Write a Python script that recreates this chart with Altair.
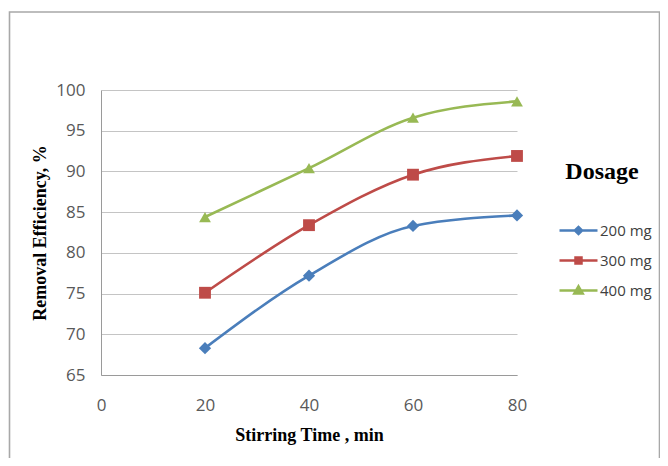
import altair as alt
import pandas as pd

times = [20, 40, 60, 80]
dose_200 = [68.3, 77.2, 83.3, 84.6]
dose_300 = [75.1, 83.4, 89.6, 91.9]
dose_400 = [84.4, 90.4, 96.6, 98.6]
series = ["200 mg", "300 mg", "400 mg"]
colors = ["#4A7EBB", "#BE4B48", "#98B954"]

rows = []
for name, vals in zip(series, [dose_200, dose_300, dose_400]):
    for t, v in zip(times, vals):
        rows.append({"time": t, "eff": v, "dose": name})
df = pd.DataFrame(rows)

W, H = 416, 285
PL, PT = 93, 82
PR = 668 - 16 - PL - W
PB = 466 - 16 - PT - H

color_scale = alt.Scale(domain=series, range=colors)

# legend symbols: a short line with the series' marker in the middle (stroke-drawn)
p_line = "M0,0L9.5,0"
def diamond(c, r):
    return f"M{c-r},0L{c},{-r}L{c+r},0L{c},{r}Z"
def square(c, r):
    return f"M{c-r},{-r}L{c+r},{-r}L{c+r},{r}L{c-r},{r}Z"
def tri(c, r):
    return f"M{c},{-1.1*r}L{c+1.1*r},{0.8*r}L{c-1.1*r},{0.8*r}Z"
legend_shapes = [
    p_line + diamond(4.75, 0.9) + diamond(4.75, 0.45) + diamond(4.75, 0.1),
    p_line + square(4.75, 0.75) + square(4.75, 0.35) + square(4.75, 0.05),
    p_line + tri(4.75, 0.95) + tri(4.75, 0.45) + tri(4.75, 0.1),
]

SANS = "Open Sans"
SERIF = "Liberation Serif"

x_enc = alt.X("time:Q", scale=alt.Scale(domain=[0, 80]),
              axis=alt.Axis(values=[0, 20, 40, 60, 80], title="Stirring Time , min", grid=False,
                            ticks=False, labelPadding=22, titlePadding=13, labelFlush=False,
                            domainColor="#9a9a9a",
                            labelFont=SANS, labelFontSize=17, labelColor="#595959",
                            titleFont=SERIF, titleFontSize=18, titleFontWeight="bold",
                            titleColor="#000000"))
y_enc = alt.Y("eff:Q", scale=alt.Scale(domain=[65, 100]),
              axis=alt.Axis(values=[65, 70, 75, 80, 85, 90, 95, 100], title="Removal Efficiency, %",
                            ticks=False, labelPadding=16, titlePadding=6,
                            gridColor="#c4c4c4", domainColor="#9a9a9a",
                            labelFont=SANS, labelFontSize=17, labelColor="#595959",
                            titleFont=SERIF, titleFontSize=18, titleFontWeight="bold",
                            titleColor="#000000"))

legend_kw = dict(
    title="Dosage", orient="none", legendX=451, legendY=70,
    titleFont=SERIF, titleFontSize=24, titleFontWeight="bold",
    titleColor="#000000", titlePadding=39, titleAnchor="middle",
    labelFont=SANS, labelFontSize=15, labelColor="#404040",
    symbolSize=64, labelOffset=33, rowPadding=12, symbolStrokeWidth=2.5,
    symbolOpacity=1,
)

base = alt.Chart(df)

legend_layer = base.transform_filter("false").mark_point(filled=False, opacity=1).encode(
    x=x_enc, y=y_enc,
    color=alt.Color("dose:N", scale=color_scale, legend=alt.Legend(**legend_kw)),
    shape=alt.Shape("dose:N", scale=alt.Scale(domain=series, range=legend_shapes),
                    legend=alt.Legend(**legend_kw)),
)

lines = base.mark_line(interpolate="monotone", strokeWidth=2.6).encode(
    x="time:Q", y="eff:Q",
    color=alt.Color("dose:N", scale=color_scale, legend=alt.Legend(**legend_kw)),
)

marker_specs = [("200 mg", "diamond", 150), ("300 mg", "square", 140), ("400 mg", "triangle-up", 140)]
marks = []
for name, shp, sz in marker_specs:
    marks.append(
        base.transform_filter(alt.datum.dose == name).mark_point(
            shape=shp, size=sz, filled=True, opacity=1
        ).encode(x="time:Q", y="eff:Q",
                 color=alt.Color("dose:N", scale=color_scale, legend=alt.Legend(**legend_kw)))
    )

frame = alt.Chart(pd.DataFrame({"a": [0]})).mark_rect(
    fill="transparent", stroke="#a8a8a8", strokeWidth=1.6
).encode(x=alt.value(-PL + 1.5), x2=alt.value(W + PR - 0.5),
         y=alt.value(-PT + 4), y2=alt.value(H + PB + 20))

chart = alt.layer(legend_layer, frame, lines, *marks).properties(
    width=W, height=H,
    background="white",
    autosize=alt.AutoSizeParams(type="none"),
    padding={"left": PL, "top": PT, "right": PR, "bottom": PB},
).configure_view(stroke=None)

chart.save("out.html", embed_options={"renderer": "svg", "actions": False})
